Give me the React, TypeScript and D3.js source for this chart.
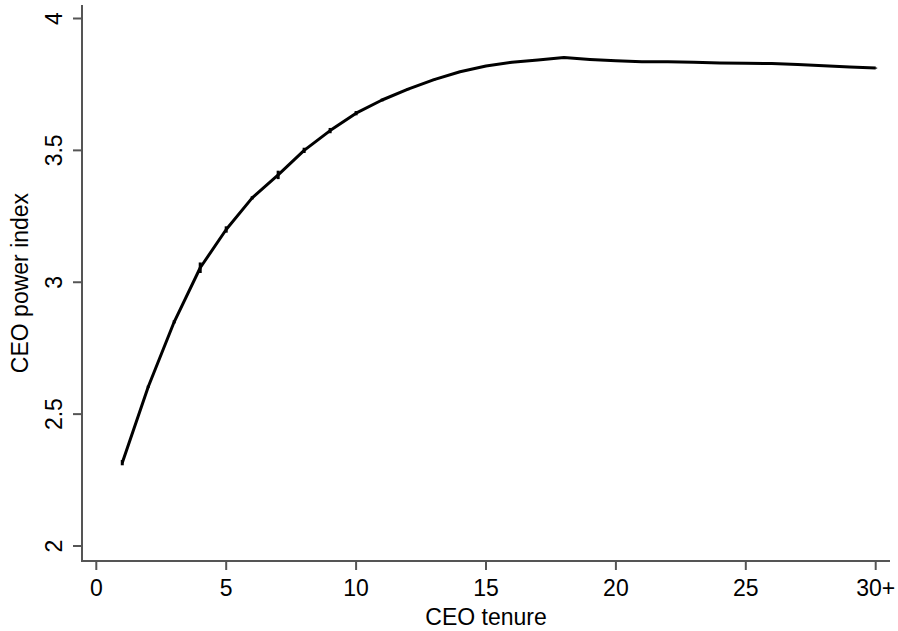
import { useEffect, useRef } from 'react';
import * as d3 from 'd3';

// CEO tenure (years), 30 = "30+"
const tenure = [1, 2, 3, 4, 5, 6, 7, 8, 9, 10, 11, 12, 13, 14, 15, 16, 17, 18, 19, 20, 21, 22, 23, 24, 25, 26, 27, 28, 29, 30];
const powerIndex = [2.316, 2.604, 2.85, 3.055, 3.2, 3.32, 3.407, 3.5, 3.575, 3.641, 3.691, 3.732, 3.768, 3.798, 3.82, 3.834, 3.843, 3.852, 3.845, 3.84, 3.836, 3.836, 3.834, 3.831, 3.83, 3.829, 3.826, 3.821, 3.816, 3.812];
// half-width of the little interval marks at each point
const halfInterval = [0.01, 0.004, 0.006, 0.02, 0.012, 0.006, 0.016, 0.01, 0.01, 0.008, 0.005, 0.004, 0.003, 0.003, 0.002, 0.002, 0.002, 0.002, 0.002, 0.002, 0.002, 0.002, 0.002, 0.002, 0.002, 0.002, 0.002, 0.002, 0.002, 0.002];

const xTicks = [0, 5, 10, 15, 20, 25, 30];
const xTickLabels = ['0', '5', '10', '15', '20', '25', '30+'];
const yTicks = [2, 2.5, 3, 3.5, 4];

export default function App() {
	const svgRef = useRef(null);
	const width = 898;
	const height = 631;
	const axisLeft = 82;
	const axisBottom = 561;
	const axisTop = 5;
	const axisRight = 890;
	const font = '"Liberation Sans", Arial, sans-serif';
	const fontSize = '23px';
	const axisColor = '#555';

	useEffect(() => {
		const svg = d3.select(svgRef.current);
		svg.selectAll('*').remove();

		const x = d3.scaleLinear().domain([0, 30]).range([96.3, 875.7]);
		const y = d3.scaleLinear().domain([2, 4]).range([546, 18.5]);

		// axis lines
		svg.append('path')
			.attr('d', `M${axisLeft},${axisTop}V${axisBottom}H${axisRight}`)
			.attr('fill', 'none')
			.attr('stroke', axisColor)
			.attr('stroke-width', 2);

		// x ticks
		const gx = svg.append('g');
		gx.selectAll('line').data(xTicks).join('line')
			.attr('x1', d => x(d)).attr('x2', d => x(d))
			.attr('y1', axisBottom).attr('y2', axisBottom + 9)
			.attr('stroke', axisColor).attr('stroke-width', 2);
		gx.selectAll('text').data(xTicks).join('text')
			.attr('x', d => x(d)).attr('y', 596)
			.attr('text-anchor', 'middle')
			.style('font-family', font).style('font-size', fontSize)
			.text((d, i) => xTickLabels[i]);

		// y ticks
		const gy = svg.append('g');
		gy.selectAll('line').data(yTicks).join('line')
			.attr('x1', axisLeft - 9).attr('x2', axisLeft)
			.attr('y1', d => y(d)).attr('y2', d => y(d))
			.attr('stroke', axisColor).attr('stroke-width', 2);
		gy.selectAll('text').data(yTicks).join('text')
			.attr('transform', d => `translate(62,${y(d)}) rotate(-90)`)
			.attr('text-anchor', 'middle')
			.style('font-family', font).style('font-size', fontSize)
			.text(d => String(d));

		// axis titles
		svg.append('text')
			.attr('x', (axisLeft + axisRight) / 2).attr('y', 625)
			.attr('text-anchor', 'middle')
			.style('font-family', font).style('font-size', fontSize)
			.text('CEO tenure');
		svg.append('text')
			.attr('transform', `translate(28,${(axisTop + axisBottom) / 2}) rotate(-90)`)
			.attr('text-anchor', 'middle')
			.style('font-family', font).style('font-size', fontSize)
			.text('CEO power index');

		// interval marks
		svg.append('g').selectAll('line').data(tenure).join('line')
			.attr('x1', d => x(d)).attr('x2', d => x(d))
			.attr('y1', (d, i) => y(powerIndex[i] - halfInterval[i]))
			.attr('y2', (d, i) => y(powerIndex[i] + halfInterval[i]))
			.attr('stroke', '#000').attr('stroke-width', 3);

		// main line
		const line = d3.line<number>()
			.x(d => x(d))
			.y((d, i) => y(powerIndex[i]));
		svg.append('path')
			.datum(tenure)
			.attr('d', line)
			.attr('fill', 'none')
			.attr('stroke', '#000')
			.attr('stroke-width', 3)
			.attr('stroke-linejoin', 'round');
	}, []);

	return (
		<svg
			ref={svgRef}
			width={width}
			height={height}
			style={{ position: 'absolute', left: 0, top: 0, background: '#fff' }}
		/>
	);
}
